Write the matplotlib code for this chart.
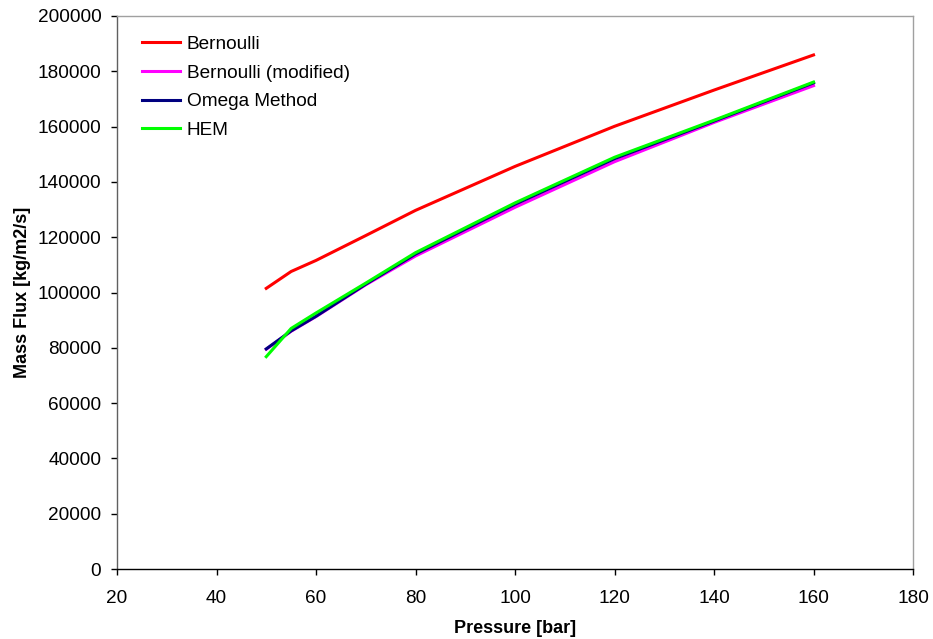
import matplotlib
matplotlib.use("Agg")
import matplotlib.pyplot as plt

plt.rcParams['font.family'] = ['Liberation Sans', 'DejaVu Sans']

pressure = [50, 55, 60, 70, 80, 100, 120, 140, 160]
bernoulli = [101500, 107600, 111600, 120600, 129700, 145600, 160100, 173200, 185900]
bernoulli_mod = [79500, 86000, 91300, 102800, 113200, 130800, 147300, 161500, 174800]
omega = [79600, 86100, 91400, 103000, 113900, 131900, 148400, 162000, 175800]
hem = [76800, 87000, 92600, 103400, 114400, 132400, 148900, 162300, 176100]

xticks = [20, 40, 60, 80, 100, 120, 140, 160, 180]
yticks = list(range(0, 200001, 20000))

fig = plt.figure(figsize=(9.33, 6.39), dpi=100)
ax = fig.add_axes([0.1254, 0.1095, 0.8532, 0.8655])

ax.plot(pressure, bernoulli, color='#ff0000', lw=2.2, label='Bernoulli')
ax.plot(pressure, bernoulli_mod, color='#ff00ff', lw=2.2, label='Bernoulli (modified)')
ax.plot(pressure, omega, color='#000080', lw=2.2, label='Omega Method')
ax.plot(pressure, hem, color='#00ff00', lw=2.2, label='HEM')

ax.set_xlim(20, 180)
ax.set_ylim(0, 200000)
ax.set_xticks(xticks)
ax.set_yticks(yticks)
ax.set_xticklabels([str(v) for v in xticks])
ax.set_yticklabels([str(v) for v in yticks])
ax.tick_params(axis='both', direction='out', length=4.3, labelsize=13.7, colors='black', width=1)
ax.tick_params(axis='x', pad=11)
ax.tick_params(axis='y', pad=7)

ax.spines['top'].set_color('#a0a0a0')
ax.spines['right'].set_color('#a0a0a0')
ax.spines['left'].set_color('#606060')
ax.spines['bottom'].set_color('black')
for s in ax.spines.values():
    s.set_linewidth(1.0)

ax.set_xlabel('Pressure [bar]', fontsize=13, fontweight='bold', labelpad=9)
ax.set_ylabel('Mass Flux [kg/m2/s]', fontsize=13, fontweight='bold', labelpad=5)

leg = ax.legend(loc='upper left', frameon=False, fontsize=13.7, handlelength=2.0,
                bbox_to_anchor=(0.0217, 0.978), labelspacing=0.59, handletextpad=0.35,
                borderaxespad=0)

fig.savefig('out.png', dpi=100)
